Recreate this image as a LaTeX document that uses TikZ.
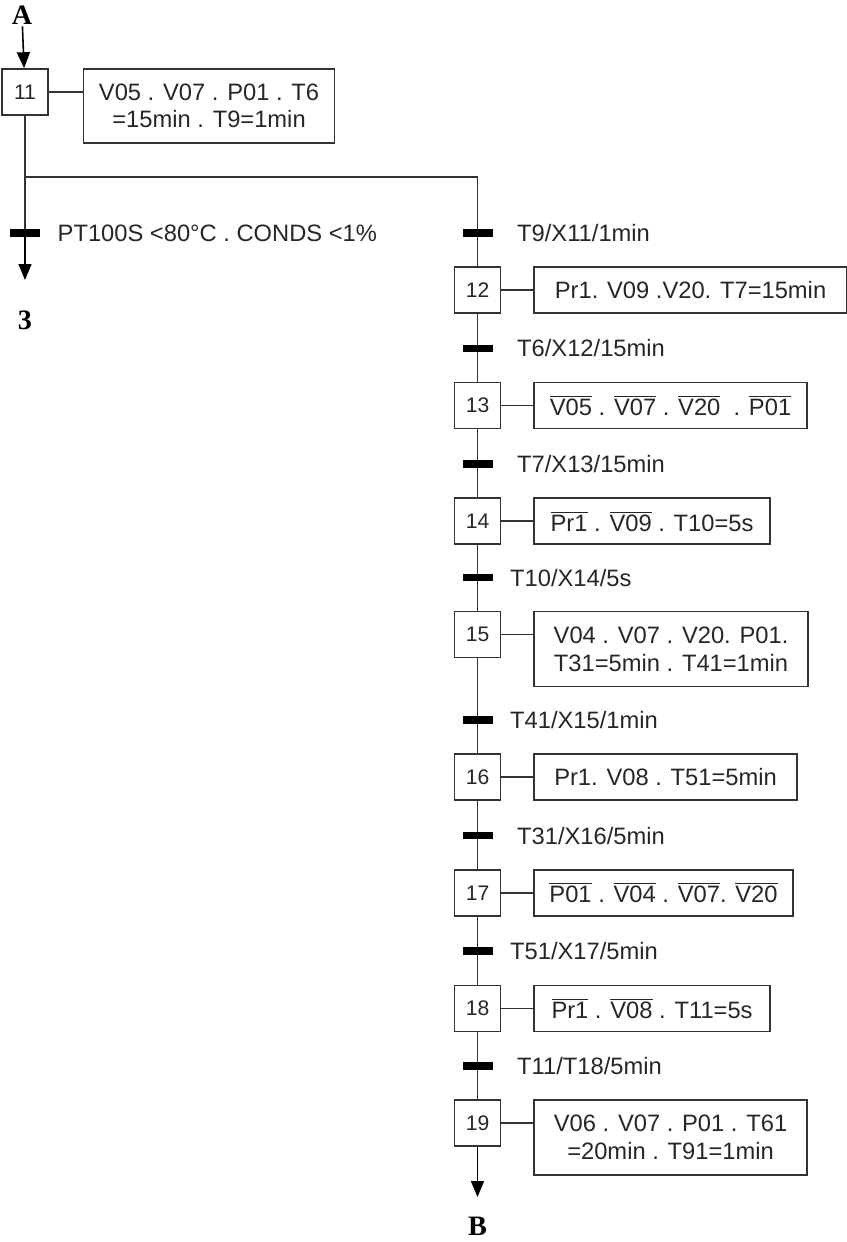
\documentclass[tikz,border=0pt]{standalone}
\usepackage{fontspec}
\setmainfont{Liberation Sans}
\newfontfamily\headfont{Liberation Serif}
\usetikzlibrary{positioning, arrows.meta}
\newcommand{\nt}[1]{\ensuremath{\overline{\mbox{#1}}}}

\begin{document}
\begin{tikzpicture}[
    x=0.02cm, y=-0.02cm,
    node distance=1.36cm and 0.64cm,
    stepbox/.style={draw=black!80, line width=0.9pt, minimum width=0.92cm, minimum height=0.92cm, inner sep=0pt, font=\fontsize{12}{14}\selectfont, text=black!85},
    act/.style={draw=black!80, line width=0.9pt, minimum height=0.92cm, align=center, inner sep=2pt, font=\fontsize{13.5}{15.7}\selectfont, text=black!85},
    bar/.style={fill=black, minimum width=0.6cm, minimum height=0.15cm, inner sep=0pt},
    lbl/.style={font=\fontsize{13.5}{15.7}\selectfont, text=black!85, inner sep=0pt},
    link/.style={draw=black!80, line width=0.9pt},
    arr/.style={draw=black, line width=0.9pt, -{Triangle[length=3.2mm, width=2.6mm]}},
    tag/.style={font=\headfont\bfseries\fontsize{16}{18}\selectfont, inner sep=1pt},
]
\useasboundingbox (0,0) rectangle (847,1242);

% Step 11 and its branches
\node[tag] (A) at (22,15) {A};
\node[stepbox] (s11) at (25,92) {11};
\node[act, minimum width=5.02cm, minimum height=1.48cm, right=0.68cm of s11.north east, anchor=north west] (a11) {V05 . V07 . P01 . T6\\=15min . T9=1min};
\coordinate (fork) at (25,177);
\node[bar] (t3) at (25,233) {};
\node[lbl, right=0.34cm of t3] {PT100S <80°C . CONDS <1\%};
\coordinate (end3) at (25,280);
\node[tag] (n3) at (25,320) {3};

% Right sequence
\node[stepbox] (s12) at (477.5,290) {12};
\node[stepbox, below=of s12] (s13) {13};
\node[stepbox, below=of s13] (s14) {14};
\node[stepbox, below=1.32cm of s14] (s15) {15};
\node[stepbox, below=1.9cm of s15] (s16) {16};
\node[stepbox, below=of s16] (s17) {17};
\node[stepbox, below=of s17] (s18) {18};
\node[stepbox, below=1.34cm of s18] (s19) {19};
\coordinate (endB) at (477.5,1197);
\node[tag] (B) at (477.5,1226) {B};

% Actions
\node[act, minimum width=6.26cm, right=of s12] (a12) {Pr1. V09 .V20. T7=15min};
\node[act, minimum width=5.46cm, right=of s13] (a13) {\nt{V05} . \nt{V07} . \nt{V20}\ \ . \nt{P01}};
\node[act, minimum width=4.72cm, right=of s14] (a14) {\nt{Pr1} . \nt{V09} . T10=5s};
\node[act, minimum width=5.48cm, minimum height=1.5cm, right=of s15.north east, anchor=north west] (a15) {V04 . V07 . V20. P01.\\T31=5min . T41=1min};
\node[act, minimum width=5.26cm, right=of s16] (a16) {Pr1. V08 . T51=5min};
\node[act, minimum width=5.18cm, right=of s17] (a17) {\nt{P01} . \nt{V04} . \nt{V07}. \nt{V20}};
\node[act, minimum width=4.72cm, right=of s18] (a18) {\nt{Pr1} . \nt{V08} . T11=5s};
\node[act, minimum width=5.46cm, minimum height=1.5cm, right=of s19.north east, anchor=north west] (a19) {V06 . V07 . P01 . T61\\=20min . T91=1min};

% Links
\draw[arr] (A) -- (s11);
\draw[link] (s11) -- (s11 -| a11.west);
\draw[link] (s11) -- (t3);
\draw[link] (fork) -| (s12);
\draw[arr] (t3) -- (end3);
\foreach \a/\b in {12/13, 13/14, 14/15, 15/16, 16/17, 17/18, 18/19}
    \draw[link] (s\a) -- (s\b);
\foreach \s in {12, 13, 14, 16, 17, 18}
    \draw[link] (s\s) -- (a\s);
\draw[link] (s15) -- (s15 -| a15.west);
\draw[link] (s19) -- (s19 -| a19.west);
\draw[arr] (s19) -- (endB);

% Transitions
\node[bar, above=0.585cm of s12] (t12) {};
\node[bar, above=0.585cm of s13] (t13) {};
\node[bar, above=0.585cm of s14] (t14) {};
\node[bar, above=0.585cm of s15] (t15) {};
\node[bar, above=0.585cm of s16] (t16) {};
\node[bar, above=0.585cm of s17] (t17) {};
\node[bar, above=0.585cm of s18] (t18) {};
\node[bar, above=0.585cm of s19] (t19) {};
\node[lbl, right=0.48cm of t12] {T9/X11/1min};
\node[lbl, right=0.48cm of t13] {T6/X12/15min};
\node[lbl, right=0.48cm of t14] {T7/X13/15min};
\node[lbl, right=0.34cm of t15] {T10/X14/5s};
\node[lbl, right=0.34cm of t16] {T41/X15/1min};
\node[lbl, right=0.48cm of t17] {T31/X16/5min};
\node[lbl, right=0.34cm of t18] {T51/X17/5min};
\node[lbl, right=0.48cm of t19] {T11/T18/5min};

\end{tikzpicture}
\end{document}
